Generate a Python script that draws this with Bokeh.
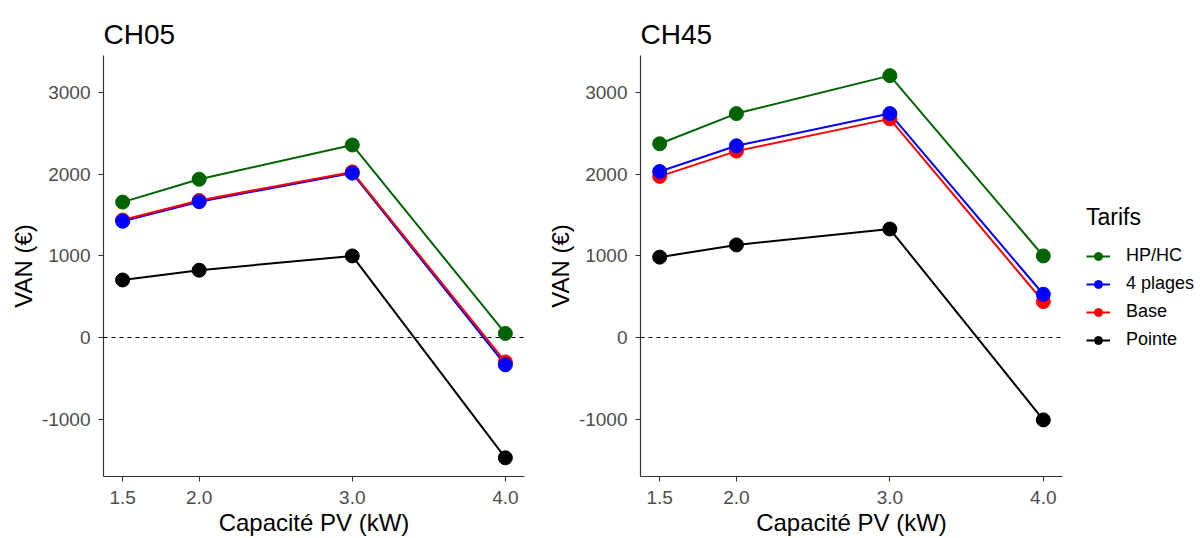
from bokeh.plotting import figure
from bokeh.layouts import row
from bokeh.models import Range1d, FixedTicker, Span, Legend, LegendItem
from bokeh.embed import file_html
from bokeh.resources import INLINE

capacity = [1.5, 2.0, 3.0, 4.0]
x_tick_labels = ["1.5", "2.0", "3.0", "4.0"]
y_ticks = [-1000, 0, 1000, 2000, 3000]

tariffs = ["HP/HC", "4 plages", "Base", "Pointe"]
colors = ["#006400", "#0000FF", "#FF0000", "#000000"]

ch05_hphc = [1660, 1940, 2360, 50]
ch05_4plages = [1425, 1665, 2015, -335]
ch05_base = [1440, 1680, 2030, -300]
ch05_pointe = [705, 825, 1000, -1475]

ch45_hphc = [2375, 2745, 3210, 1000]
ch45_4plages = [2035, 2350, 2745, 530]
ch45_base = [1975, 2285, 2680, 440]
ch45_pointe = [985, 1135, 1330, -1010]

FONT = "Liberation Sans"


def make_panel(title, series, width, left, right):
    p = figure(width=width, height=538, output_backend="svg", toolbar_location=None,
               x_range=Range1d(1.375, 4.125), y_range=Range1d(-1704, 3457),
               min_border_left=left, min_border_right=right,
               min_border_top=55, min_border_bottom=61)
    p.title.text = title
    p.title.text_font = FONT
    p.title.text_font_size = "28px"
    p.title.text_font_style = "normal"
    p.title.text_color = "#000000"
    p.title.standoff = 12
    p.outline_line_color = None
    p.xgrid.visible = False
    p.ygrid.visible = False
    p.background_fill_color = "white"
    p.border_fill_color = "white"

    p.xaxis.ticker = FixedTicker(ticks=capacity)
    p.xaxis.major_label_overrides = {c: l for c, l in zip(capacity, x_tick_labels)}
    p.yaxis.ticker = FixedTicker(ticks=y_ticks)
    p.yaxis.major_label_overrides = {t: str(t) for t in y_ticks}
    p.xaxis.axis_label = "Capacité PV (kW)"
    p.yaxis.axis_label = "VAN (€)"
    for ax in (p.xaxis, p.yaxis):
        ax.axis_line_color = "#333333"
        ax.axis_line_width = 1.2
        ax.major_tick_line_color = "#333333"
        ax.major_tick_out = 5
        ax.major_tick_in = 0
        ax.minor_tick_line_color = None
        ax.major_label_text_font = FONT
        ax.major_label_text_font_size = "19px"
        ax.major_label_text_color = "#4D4D4D"
        ax.axis_label_text_font = FONT
        ax.axis_label_text_font_size = "24px"
        ax.axis_label_text_font_style = "normal"
        ax.axis_label_text_color = "#000000"
    p.yaxis.major_label_standoff = 8
    p.yaxis.axis_label_standoff = 2
    p.xaxis.major_label_standoff = 9
    p.xaxis.axis_label_standoff = 2

    p.add_layout(Span(location=0, dimension="width", line_color="#000000",
                      line_dash="4 4", line_width=1))

    for name, vals, col in zip(tariffs, series, colors):
        p.line(capacity, vals, line_color=col, line_width=2)
    for idx in [0, 2, 1, 3]:
        p.scatter(capacity, series[idx], size=14, fill_color=colors[idx],
                  line_color=colors[idx])
    return p


ch45_series = [ch45_hphc, ch45_4plages, ch45_base, ch45_pointe]
p1 = make_panel("CH05", [ch05_hphc, ch05_4plages, ch05_base, ch05_pointe], 540, 103, 16)
p2 = make_panel("CH45", ch45_series, 540, 100, 18)

# legend-only panel: its glyphs lie outside the visible range, only the legend shows
p3 = figure(width=120, height=538, output_backend="svg", toolbar_location=None,
            x_range=Range1d(10, 11), y_range=Range1d(-1704, 3457),
            min_border_left=0, min_border_right=0, min_border_top=0, min_border_bottom=0)
p3.axis.visible = False
p3.grid.visible = False
p3.outline_line_color = None
p3.border_fill_color = "white"
items = []
for name, vals, col in zip(tariffs, ch45_series, colors):
    lr = p3.line(capacity, vals, line_color=col, line_width=2)
    sr = p3.scatter(capacity, vals, size=13, fill_color=col, line_color=col)
    items.append(LegendItem(label=name, renderers=[lr, sr]))

legend = Legend(items=items, title="Tarifs", location=(6, 126),
                border_line_color=None, background_fill_alpha=0,
                title_text_font=FONT, title_text_font_size="23px", title_text_font_style="normal",
                title_text_color="#000000", title_standoff=14,
                label_text_font=FONT, label_text_font_size="18px", label_text_color="#000000",
                glyph_width=24, glyph_height=20, label_height=20, spacing=7,
                label_standoff=16, margin=0, padding=5)
p3.add_layout(legend, "center")

layout = row(p1, p2, p3)
open("out.html", "w").write(file_html(layout, INLINE))
